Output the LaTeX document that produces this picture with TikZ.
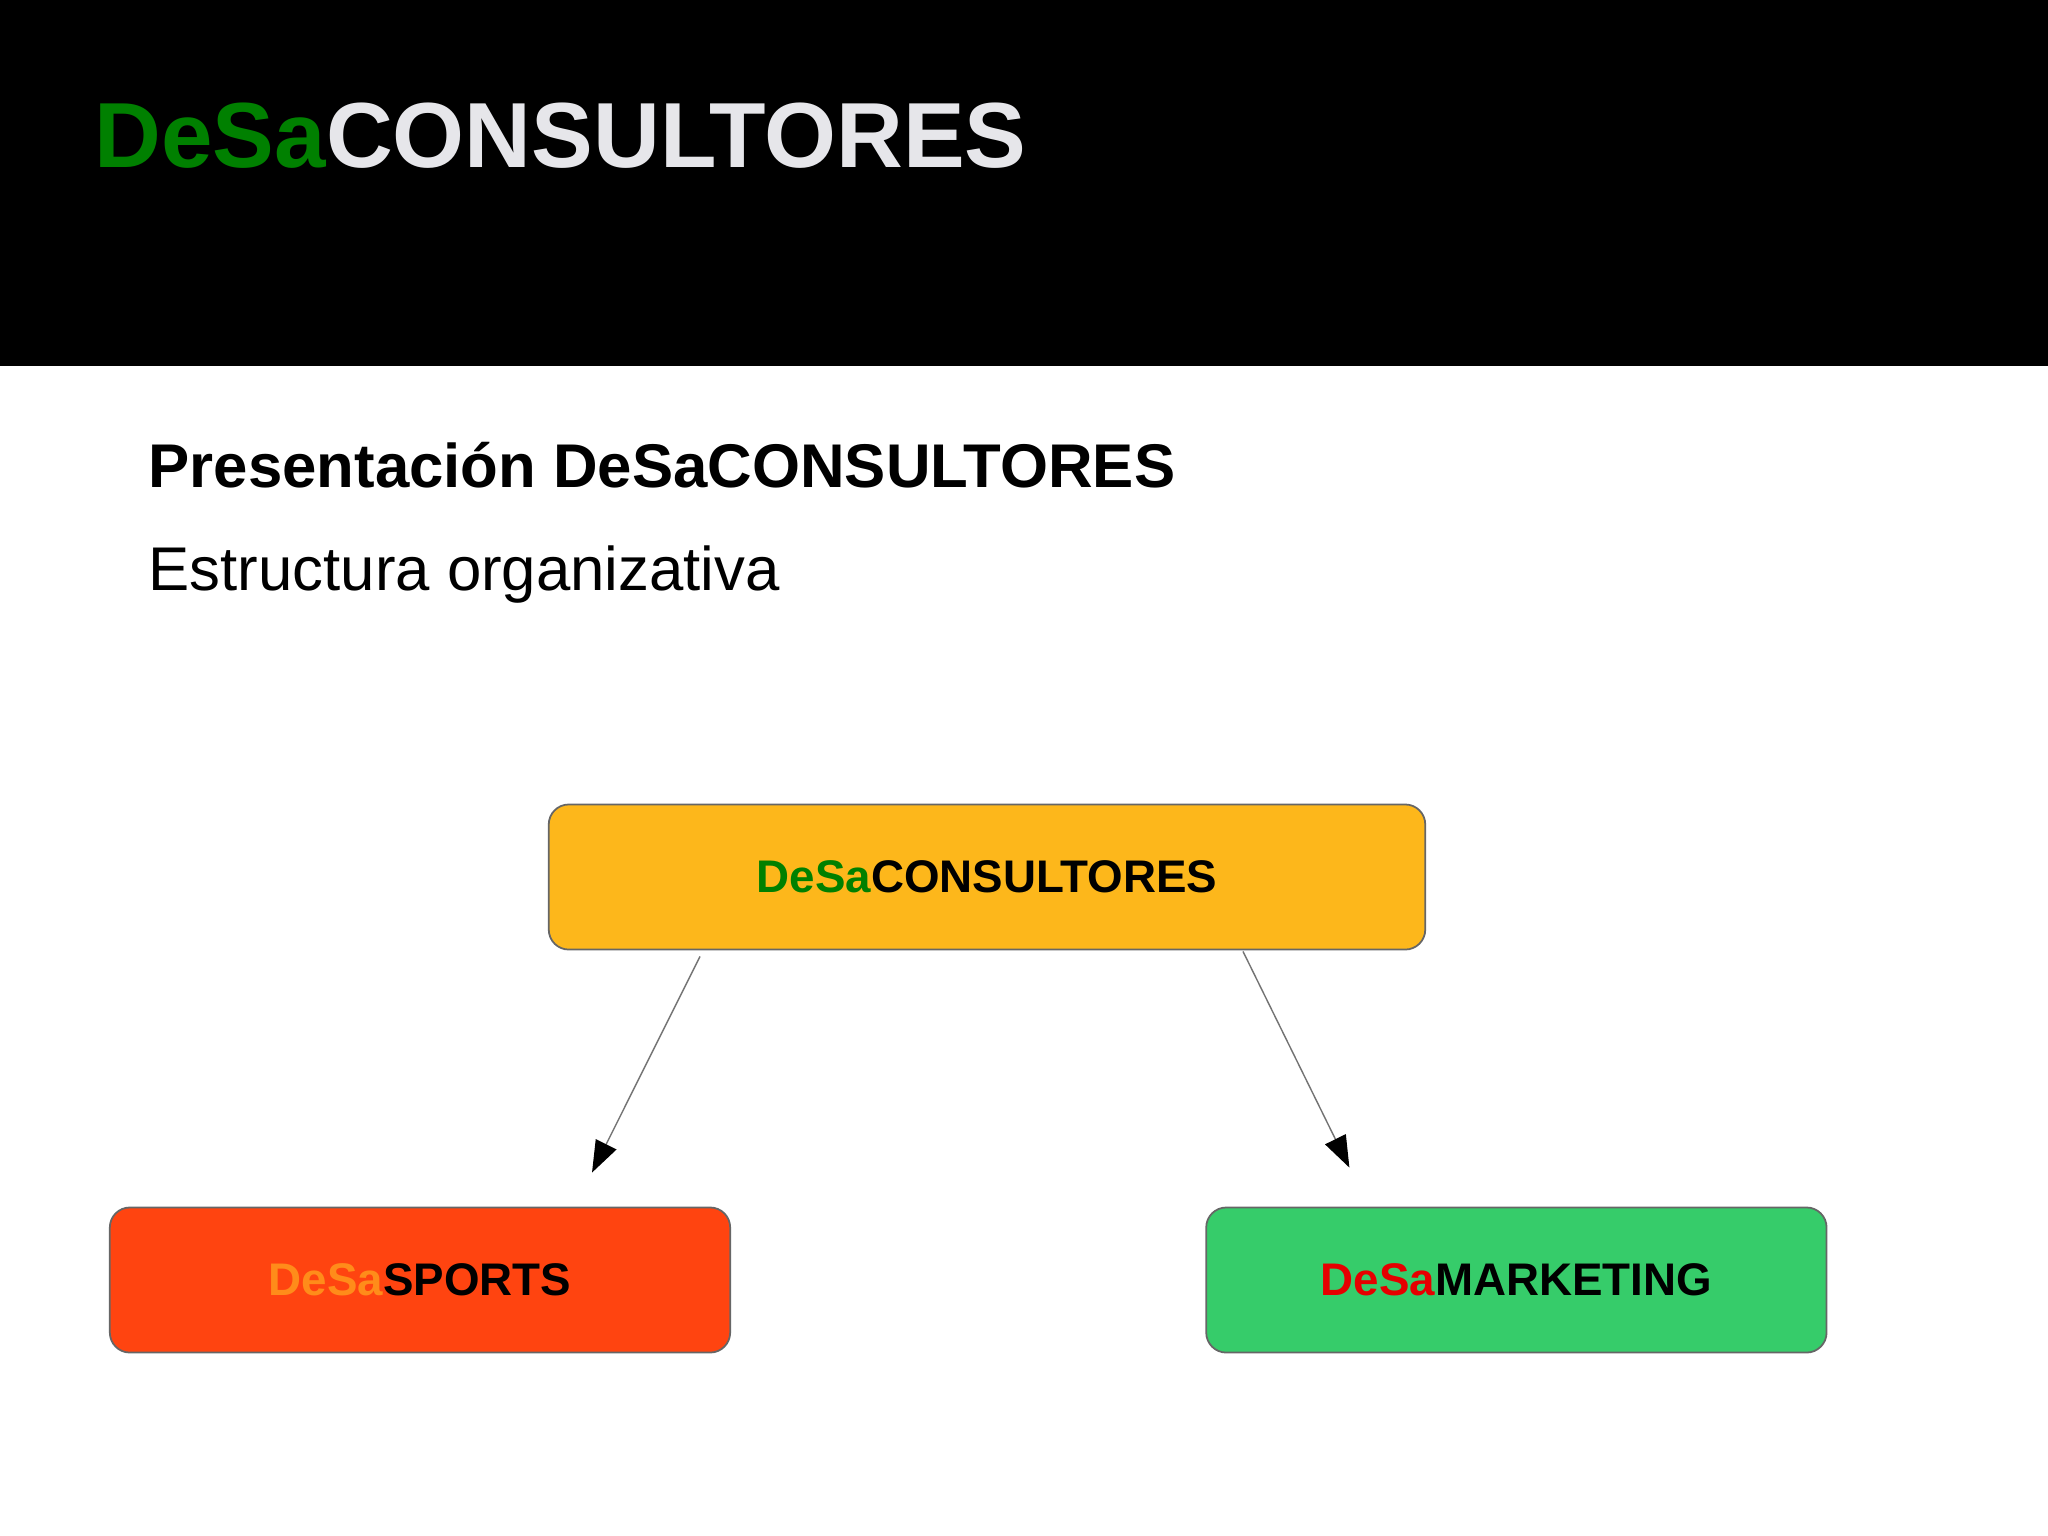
\documentclass[tikz,border=0pt]{standalone}
\usepackage{fontspec}
\setmainfont{Liberation Sans}
\usetikzlibrary{positioning, arrows.meta, calc}

\definecolor{desagreen}{HTML}{008000}
\definecolor{titlegray}{HTML}{E6E6EA}
\definecolor{boxyellow}{HTML}{FDB71B}
\definecolor{boxred}{HTML}{FF4410}
\definecolor{boxgreen}{HTML}{36CC6A}
\definecolor{desaorange}{HTML}{FF8C1A}
\definecolor{desared}{HTML}{E60000}

\begin{document}
\begin{tikzpicture}[
        x=0.01cm, y=-0.01cm,
        node distance=4.74cm,
        unit/.style={rectangle, draw=black!60, line width=0.5pt, rounded corners=0.2cm, text centered, minimum height=1.45cm, inner sep=0pt, font=\fontsize{13}{15}\selectfont\bfseries},
        arrow/.style={draw=black!55, line width=0.4pt, -{Triangle[length=9pt, width=6.5pt, color=black]}}
    ]
    \useasboundingbox (0,0) rectangle (2048,1535);
    \fill[white] (0,0) rectangle (2048,1535);
    \fill[black] (0,0) rectangle (2048,366);

    \node[anchor=base west, inner sep=0pt, font=\fontsize{26.3}{30}\selectfont\bfseries] (title) at (94,167) {\textcolor{desagreen}{DeSa}\textcolor{titlegray}{CONSULTORES}};
    \node[anchor=base west, inner sep=0pt, font=\fontsize{17.55}{20}\selectfont\bfseries] (heading) at (148,487) {Presentación DeSaCONSULTORES};
    \node[anchor=base west, inner sep=0pt, font=\fontsize{17.55}{20}\selectfont] (subheading) at (148,590) {Estructura organizativa};

    \node[unit, fill=boxyellow, minimum width=8.76cm] (consultores) at (987,877) {\textcolor{desagreen}{DeSa}CONSULTORES};
    \node[unit, fill=boxred, minimum width=6.2cm] (sports) at (420,1280) {\textcolor{desaorange}{DeSa}SPORTS};
    \node[unit, fill=boxgreen, minimum width=6.2cm, right=of sports] (marketing) {\textcolor{desared}{DeSa}MARKETING};

    \draw[arrow] ($(consultores.south)+(-287,6)$) -- ($(sports.north)+(172,-34)$);
    \draw[arrow] ($(consultores.south)+(256,1)$) -- ($(marketing.north)+(-167,-39)$);
    \end{tikzpicture}
\end{document}
